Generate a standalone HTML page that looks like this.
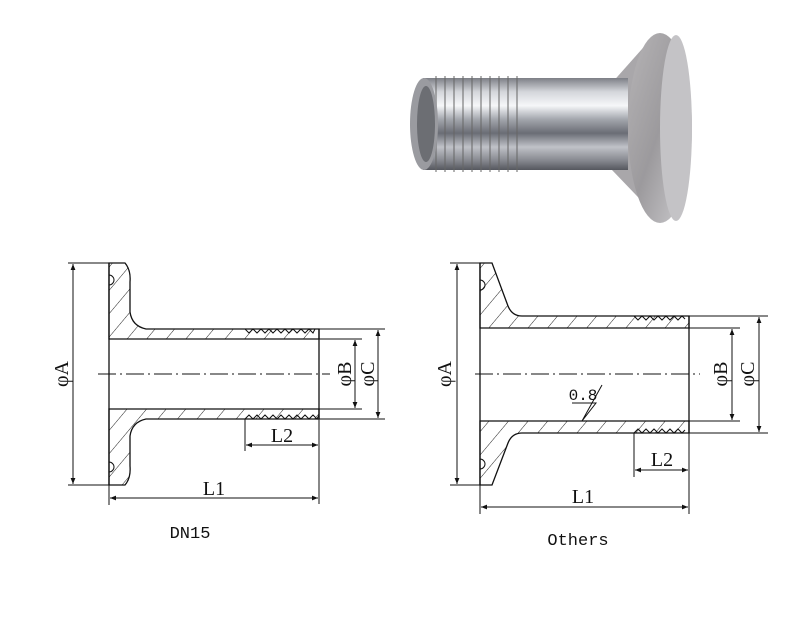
<!DOCTYPE html>
<html><head><meta charset="utf-8"><style>
html,body{margin:0;padding:0;background:#fff;}
svg{display:block;}
text{font-family:"Liberation Serif",serif;fill:#111;}
</style></head><body>
<svg width="800" height="621" viewBox="0 0 800 621" xmlns="http://www.w3.org/2000/svg">
<defs>
<pattern id="h" patternUnits="userSpaceOnUse" width="15" height="15" patternTransform="rotate(40)">
<line x1="0" y1="0" x2="0" y2="15" stroke="#222" stroke-width="1"/>
</pattern>
<linearGradient id="tube" x1="0" y1="0" x2="0" y2="1">
<stop offset="0" stop-color="#7d7f86"/><stop offset="0.15" stop-color="#d4d6db"/>
<stop offset="0.3" stop-color="#f6f7f9"/><stop offset="0.45" stop-color="#a3a6ad"/>
<stop offset="0.6" stop-color="#6a6d75"/><stop offset="0.75" stop-color="#c0c2c8"/>
<stop offset="0.9" stop-color="#85878e"/><stop offset="1" stop-color="#55575e"/>
</linearGradient>
<linearGradient id="fl" x1="0" y1="0" x2="1" y2="1">
<stop offset="0" stop-color="#b6b4b6"/><stop offset="0.5" stop-color="#9c9a9d"/><stop offset="1" stop-color="#cfced1"/>
</linearGradient>
<pattern id="thr" patternUnits="userSpaceOnUse" width="9" height="10">
<line x1="4" y1="0" x2="4" y2="10" stroke="#666" stroke-width="2" opacity="0.5"/>
</pattern>
<marker id="a" viewBox="0 0 10 10" refX="10" refY="5" markerWidth="10" markerHeight="6" orient="auto-start-reverse" markerUnits="userSpaceOnUse">
<path d="M0,1 L10,5 L0,9 Z" fill="#111"/></marker>
</defs>

<!-- Photo -->
<g>
<path d="M610,85 L650,40 L690,120 L660,220 L612,170 Z" fill="#a9a7aa"/>
<ellipse cx="660" cy="128" rx="32" ry="95" fill="url(#fl)"/>
<ellipse cx="676" cy="128" rx="16" ry="93" fill="#c4c3c6"/>
<rect x="423" y="78" width="205" height="92" fill="url(#tube)"/>
<rect x="430" y="76" width="90" height="96" fill="url(#thr)"/>
<ellipse cx="424" cy="124" rx="14" ry="46" fill="#9a9ba0"/>
<ellipse cx="426" cy="124" rx="9" ry="38" fill="#6c6e73"/>
</g>

<!-- Left drawing -->
<g stroke="#111" stroke-width="1.3" fill="url(#h)">
<path d="M109,263 L125,263 Q131,270 130,282 L130,312 Q132,326 146,329 L245,329 L319,329 L319,339 L109,339 Z"/>
<path d="M109,485 L125,485 Q131,478 130,466 L130,436 Q132,422 146,419 L245,419 L319,419 L319,409 L109,409 Z"/>
</g>
<g stroke="#111" stroke-width="1.3" fill="none">
<line x1="109" y1="263" x2="109" y2="485"/>
<line x1="319" y1="329" x2="319" y2="419"/>
</g>
<g stroke="#111" stroke-width="1" fill="none">
<path d="M245,329 l4,4 l4,-4 l4,4 l4,-4 l4,4 l4,-4 l4,4 l4,-4 l4,4 l4,-4 l4,4 l4,-4 l4,4 l4,-4 l4,4 l4,-4 l4,4 l2,-4"/>
<path d="M245,419 l4,-4 l4,4 l4,-4 l4,4 l4,-4 l4,4 l4,-4 l4,4 l4,-4 l4,4 l4,-4 l4,4 l4,-4 l4,4 l4,-4 l4,4 l4,-4 l4,4 l2,-4"/>
<path d="M109,275 a5,5 0 0 1 0,10 M109,462 a5,5 0 0 1 0,10"/>
<line x1="98" y1="374" x2="330" y2="374" stroke-dasharray="18,4,2,4"/>
<line x1="68" y1="263" x2="109" y2="263"/><line x1="68" y1="485" x2="109" y2="485"/>
<line x1="73" y1="264" x2="73" y2="484" marker-start="url(#a)" marker-end="url(#a)"/>
<line x1="319" y1="339" x2="362" y2="339"/><line x1="319" y1="409" x2="362" y2="409"/>
<line x1="319" y1="329" x2="385" y2="329"/><line x1="319" y1="419" x2="385" y2="419"/>
<line x1="355" y1="340" x2="355" y2="408" marker-start="url(#a)" marker-end="url(#a)"/>
<line x1="378" y1="330" x2="378" y2="418" marker-start="url(#a)" marker-end="url(#a)"/>
<line x1="245" y1="419" x2="245" y2="451"/><line x1="319" y1="419" x2="319" y2="504"/>
<line x1="109" y1="485" x2="109" y2="505"/>
<line x1="246" y1="445" x2="318" y2="445" marker-start="url(#a)" marker-end="url(#a)"/>
<line x1="110" y1="498" x2="318" y2="498" marker-start="url(#a)" marker-end="url(#a)"/>
</g>
<text x="0" y="0" font-size="20" transform="translate(68,374) rotate(-90)" text-anchor="middle">φA</text>
<text x="0" y="0" font-size="20" transform="translate(351,374) rotate(-90)" text-anchor="middle">φB</text>
<text x="0" y="0" font-size="20" transform="translate(374,374) rotate(-90)" text-anchor="middle">φC</text>
<text x="282" y="442" font-size="20" text-anchor="middle">L2</text>
<text x="214" y="495" font-size="20" text-anchor="middle">L1</text>
<text x="190" y="538" font-size="17" text-anchor="middle" style="font-family:'Liberation Mono',monospace">DN15</text>

<!-- Right drawing -->
<g stroke="#111" stroke-width="1.3" fill="url(#h)">
<path d="M480,263 L492,263 L508,306 Q512,316 522,316 L689,316 L689,328 L480,328 Z"/>
<path d="M480,485 L492,485 L508,443 Q512,433 522,433 L689,433 L689,421 L480,421 Z"/>
</g>
<g stroke="#111" stroke-width="1.3" fill="none">
<line x1="480" y1="263" x2="480" y2="485"/>
<line x1="689" y1="316" x2="689" y2="433"/>
</g>
<g stroke="#111" stroke-width="1" fill="none">
<path d="M634,316 l4,4 l4,-4 l4,4 l4,-4 l4,4 l4,-4 l4,4 l4,-4 l4,4 l4,-4 l4,4 l4,-4 l3,3"/>
<path d="M634,433 l4,-4 l4,4 l4,-4 l4,4 l4,-4 l4,4 l4,-4 l4,4 l4,-4 l4,4 l4,-4 l4,4 l3,-3"/>
<path d="M480,280 a5,5 0 0 1 0,10 M480,459 a5,5 0 0 1 0,10"/>
<line x1="475" y1="374" x2="700" y2="374" stroke-dasharray="18,4,2,4"/>
<line x1="450" y1="263" x2="480" y2="263"/><line x1="450" y1="485" x2="480" y2="485"/>
<line x1="457" y1="264" x2="457" y2="484" marker-start="url(#a)" marker-end="url(#a)"/>
<line x1="689" y1="328" x2="740" y2="328"/><line x1="689" y1="421" x2="740" y2="421"/>
<line x1="689" y1="316" x2="768" y2="316"/><line x1="689" y1="433" x2="768" y2="433"/>
<line x1="732" y1="329" x2="732" y2="420" marker-start="url(#a)" marker-end="url(#a)"/>
<line x1="759" y1="317" x2="759" y2="432" marker-start="url(#a)" marker-end="url(#a)"/>
<line x1="634" y1="433" x2="634" y2="477"/><line x1="689" y1="433" x2="689" y2="514"/>
<line x1="480" y1="485" x2="480" y2="514"/>
<line x1="635" y1="470" x2="688" y2="470" marker-start="url(#a)" marker-end="url(#a)"/>
<line x1="481" y1="507" x2="688" y2="507" marker-start="url(#a)" marker-end="url(#a)"/>
<path d="M572,403 L596,403 L582,421 L602,385"/>
</g>
<text x="583" y="400" font-size="16" text-anchor="middle" style="font-family:'Liberation Mono',monospace">0.8</text>
<text x="0" y="0" font-size="20" transform="translate(451,374) rotate(-90)" text-anchor="middle">φA</text>
<text x="0" y="0" font-size="20" transform="translate(727,374) rotate(-90)" text-anchor="middle">φB</text>
<text x="0" y="0" font-size="20" transform="translate(754,374) rotate(-90)" text-anchor="middle">φC</text>
<text x="662" y="466" font-size="20" text-anchor="middle">L2</text>
<text x="583" y="503" font-size="20" text-anchor="middle">L1</text>
<text x="578" y="545" font-size="17" text-anchor="middle" style="font-family:'Liberation Mono',monospace">Others</text>
</svg>
</body></html>
